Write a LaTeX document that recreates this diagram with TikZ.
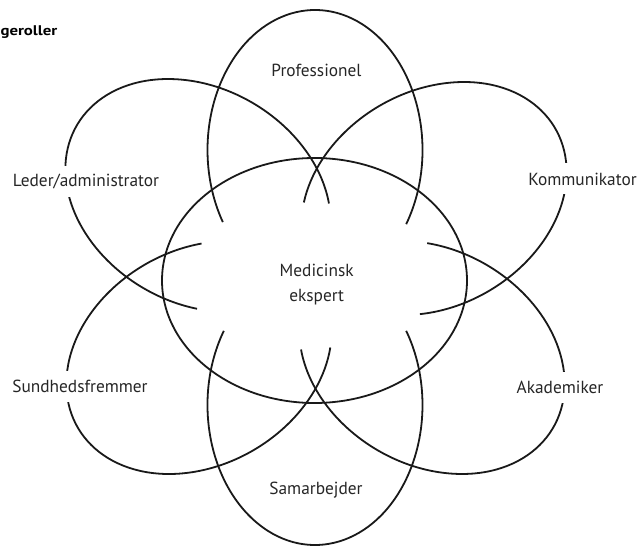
\documentclass[tikz,border=0pt]{standalone}
\usepackage{fontspec}
\setmainfont{PT Sans}[FakeStretch=0.99]
\newfontfamily\titlefont{PT Sans}[FakeStretch=1.2]
\begin{document}
\begin{tikzpicture}[x=1pt,y=1pt,
  ring/.style={line width=1.8pt, draw=black!90},
  lab/.style={font=\fontsize{17.5}{20}\selectfont, text=black!85, inner sep=0pt},
  gaplab/.style={lab, fill=white, minimum height=31pt, inner xsep=2pt}]
\useasboundingbox (0,0) rectangle (639,547);
% central ellipse
\draw[ring] (314.5,266.5) ellipse [x radius=152.5, y radius=122.5];
% Professionel
\begin{scope}[shift={(315,397)}]
  \draw[ring] (-32:107.5 and 140) arc[start angle=-32, end angle=211, x radius=107.5, y radius=140];
\end{scope}
% Samarbejder
\begin{scope}[shift={(315,142)}, rotate=180]
  \draw[ring] (-32:107.5 and 140) arc[start angle=-32, end angle=212, x radius=107.5, y radius=140];
\end{scope}
% Kommunikator
\begin{scope}[shift={(434,348.5)}, rotate=-60]
  \draw[ring] (-30:107.5 and 140) arc[start angle=-30, end angle=235, x radius=107.5, y radius=140];
\end{scope}
% Leder/administrator
\begin{scope}[shift={(198,351.5)}, rotate=60]
  \draw[ring] (-57:107.5 and 140) arc[start angle=-57, end angle=203.5, x radius=107.5, y radius=140];
\end{scope}
% Akademiker
\begin{scope}[shift={(432,189.5)}, rotate=-120]
  \draw[ring] (-57:107.5 and 140) arc[start angle=-57, end angle=206, x radius=107.5, y radius=140];
\end{scope}
% Sundhedsfremmer
\begin{scope}[shift={(199,189.5)}, rotate=120]
  \draw[ring] (-25:107.5 and 140) arc[start angle=-25, end angle=238, x radius=107.5, y radius=140];
\end{scope}
% labels
\node[lab, font=\titlefont\bfseries\fontsize{14}{16}\selectfont, text=black, anchor=base east] (title) at (57.5,511.3) {geroller};
\node[lab, anchor=base] (prof) at (316.5,470) {Professionel};
\node[lab, anchor=base] (med1) at (316.7,271) {Medicinsk};
\node[lab, anchor=base] (med2) at (316.7,245.3) {ekspert};
\node[lab, anchor=base] (sam) at (316,53) {Samarbejder};
\node[gaplab] (kom) at (582.5,368) {Kommunikator};
\node[gaplab] (led) at (86,365.5) {Leder/administrator};
\node[gaplab] (sun) at (80,161) {Sundhedsfremmer};
\node[gaplab] (aka) at (560,159.5) {Akademiker};
\end{tikzpicture}
\end{document}
